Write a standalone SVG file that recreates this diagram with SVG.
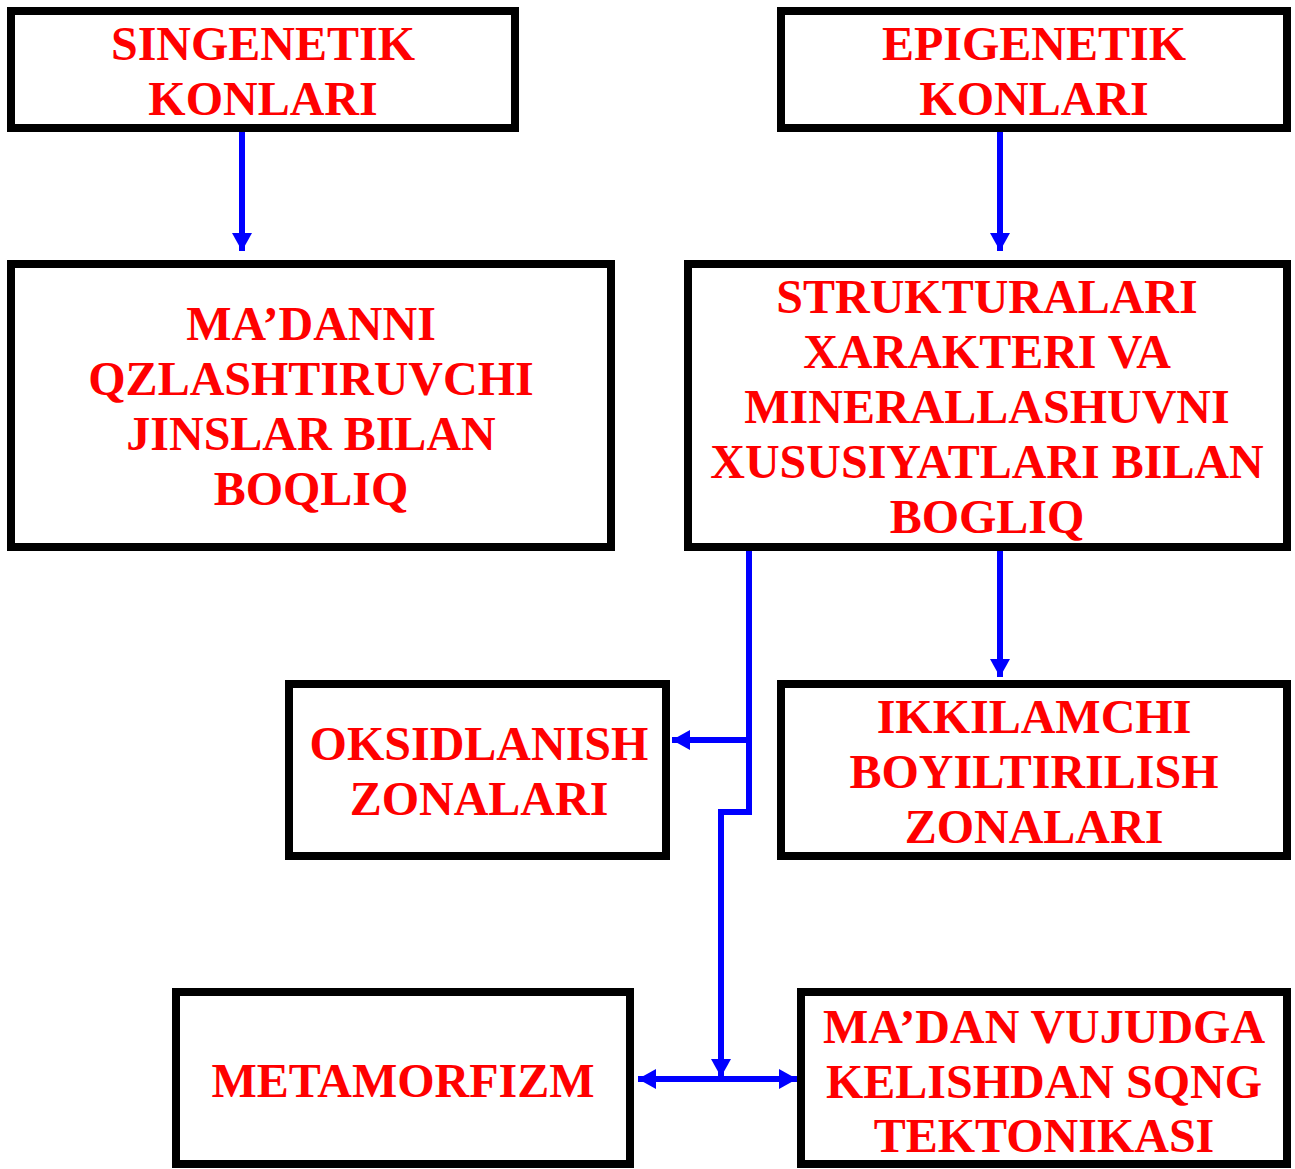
<svg xmlns="http://www.w3.org/2000/svg" width="1295" height="1169" viewBox="0 0 1295 1169">
<style>
.box{fill:#fff;stroke:#000;stroke-width:8}
.t{font-family:"Liberation Serif","Times New Roman",serif;font-weight:bold;font-size:48px;fill:#ff0000;text-anchor:middle}
.c{fill:none;stroke:#0000ff;stroke-width:6}
</style>
<defs>
<marker id="ah" viewBox="0 0 18 20" refX="18" refY="10" markerWidth="18" markerHeight="20" markerUnits="userSpaceOnUse" orient="auto-start-reverse">
<path d="M0,0 L18,10 L0,20 Z" fill="#0000ff"/>
</marker>
</defs>
<rect width="1295" height="1169" fill="#fff"/>
<g id="connectors">
<path class="c" d="M242,132 V251" marker-end="url(#ah)"/>
<path class="c" d="M1000,132 V251" marker-end="url(#ah)"/>
<path class="c" d="M1000,551 V677" marker-end="url(#ah)"/>
<path class="c" d="M749,547 V812 H721 V1077" marker-end="url(#ah)"/>
<path class="c" d="M749,740 H672" marker-end="url(#ah)"/>
<path class="c" d="M638,1079 H797" marker-start="url(#ah)" marker-end="url(#ah)"/>
</g>
<g id="n1"><rect class="box" x="11" y="11" width="504" height="117"/>
<text class="t" x="263" y="60">SINGENETIK</text><text class="t" x="263" y="115">KONLARI</text></g>
<g id="n2"><rect class="box" x="781" y="11" width="506" height="117"/>
<text class="t" x="1034" y="60">EPIGENETIK</text><text class="t" x="1034" y="115">KONLARI</text></g>
<g id="n3"><rect class="box" x="11" y="264" width="600" height="283"/>
<text class="t" x="311" y="340">MA’DANNI</text><text class="t" x="311" y="395">QZLASHTIRUVCHI</text><text class="t" x="311" y="450">JINSLAR BILAN</text><text class="t" x="311" y="505">BOQLIQ</text></g>
<g id="n4"><rect class="box" x="688" y="264" width="599" height="283"/>
<text class="t" x="987" y="313">STRUKTURALARI</text><text class="t" x="987" y="368">XARAKTERI VA</text><text class="t" x="987" y="423">MINERALLASHUVNI</text><text class="t" x="987" y="478">XUSUSIYATLARI BILAN</text><text class="t" x="987" y="533">BOGLIQ</text></g>
<g id="n5"><rect class="box" x="289" y="684" width="377" height="172"/>
<text class="t" x="479" y="760">OKSIDLANISH</text><text class="t" x="479" y="815">ZONALARI</text></g>
<g id="n6"><rect class="box" x="781" y="684" width="506" height="172"/>
<text class="t" x="1034" y="733">IKKILAMCHI</text><text class="t" x="1034" y="788">BOYILTIRILISH</text><text class="t" x="1034" y="843">ZONALARI</text></g>
<g id="n7"><rect class="box" x="176" y="992" width="454" height="172"/>
<text class="t" x="403" y="1097">METAMORFIZM</text></g>
<g id="n8"><rect class="box" x="801" y="992" width="486" height="172"/>
<text class="t" x="1044" y="1043">MA’DAN VUJUDGA</text><text class="t" x="1044" y="1098">KELISHDAN SQNG</text><text class="t" x="1044" y="1152">TEKTONIKASI</text></g>
</svg>
